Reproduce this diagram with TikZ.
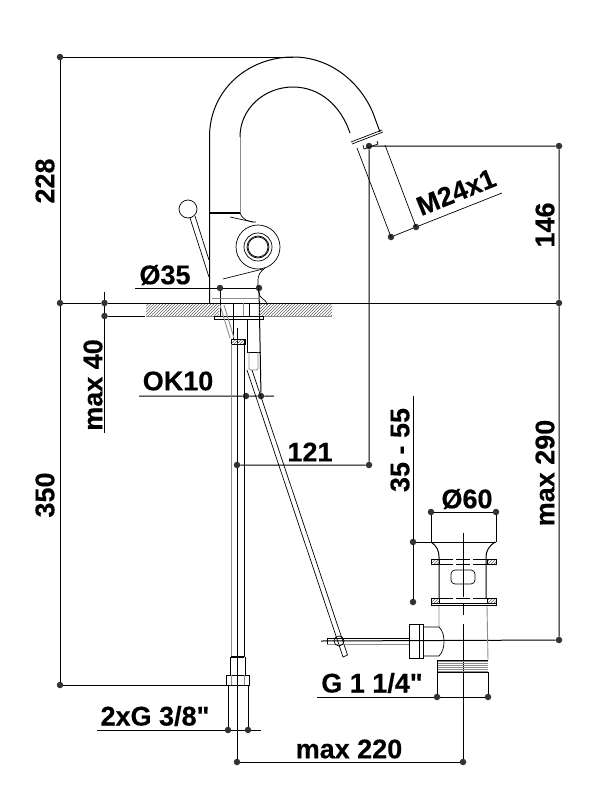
\documentclass[tikz,border=0pt]{standalone}
\usepackage{fontspec}
\setmainfont{Liberation Sans}
\newfontface\dimfont[FakeBold=0.3]{Liberation Sans Bold}
\usetikzlibrary{patterns}
\tikzset{
	dimdot/.style={circle,fill=black!80,inner sep=0pt,minimum size=6.5pt},
	dimline/.style={line width=1pt},
	dimtext/.style={font=\fontsize{27}{27}\dimfont,inner sep=0pt},
	body/.style={line width=1pt},
	thinbody/.style={line width=0.7pt},
	greybody/.style={line width=0.9pt,black!45},
	hatched/.style={pattern=north east lines,pattern color=black!60,draw=none}
}
\begin{document}
\begin{tikzpicture}[x=1pt,y=-1pt]
	\useasboundingbox (0,0) rectangle (609,803);
	% dimension dots
	\foreach \name/\x/\y in {tl/60/57,ml/60/303,bl/60/685,ca/104.5/303,cb/104.5/316,
		da/220/288,db/259/288,oa/246/396,ob/261/396,ra/237/465,rb/369/465,
		na/391/237,nb/416/227,sa/369/146,sb/559/146,sc/559/303,sd/559/640,
		ua/431/512,ub/496/512,wa/413/542,wb/413/602,ga/437/697,gb/488/697,
		pa/228/730,pb/248/730,ma/237/762,mb/463/762}
		{\node[dimdot] (\name) at (\x,\y) {};}
	% free ends
	\foreach \name/\x/\y in {topend/293/57,botend/227/685,capup/104.5/292,capdown/104.5/433,
		plateend/145/316,dend/135/288,oend/139/396,oendb/274/396,
		nend/502/193,wup/413/396,gend/317/697,pend/97/730,pendb/261/730,
		dla/220/316,dlb/261/319,rup/237/328,sdl/321/641,
		uda/431/542,udb/496/542,gua/437/660,gub/488/672,
		paup/228/685,pbup/248/685,maup/237/685,mbup/463/533}
		{\coordinate (\name) at (\x,\y);}
	% dimensions
	\draw[dimline] (tl)--(topend) (tl)--(ml)--(bl)--(botend);
	\draw[dimline] (ml)--(ca)--(sc) (cb)--(plateend);
	\draw[dimline] (capup)--(ca)--(cb)--(capdown);
	\draw[dimline] (dend)--(da)--(db) (da)--(dla);
	\draw[dimline] (oend)--(oa)--(ob)--(oendb) (db)--(ob);
	\draw[dimline] (ra)--(rb)--(sa)--(sb)--(sc)--(sd)--(sdl);
	\draw[dimline] (rup)--(ra)--(maup);
	\draw[thinbody] (na)--(nb)--(nend);
	\draw[dimline] (ua)--(ub) (ua)--(uda) (ub)--(udb);
	\draw[dimline] (wup)--(wa)--(wb) (wa)--(udb);
	\draw[dimline] (gend)--(ga)--(gb) (gua)--(ga) (gub)--(gb);
	\draw[dimline] (pend)--(pa)--(pb)--(pendb) (paup)--(pa) (pbup)--(pb);
	\draw[dimline] (maup)--(ma)--(mb);
	\draw[dimline] (mbup)--(463,597) (463,604)--(463,615) (463,624)--(mb);
	% labels
	\node[dimtext,rotate=90] (lbla) at (45,181) {228};
	\node[dimtext,rotate=90] (lblb) at (45,495) {350};
	\node[dimtext,rotate=90] (lblc) at (93,385) {max 40};
	\node[dimtext,rotate=90] (lbld) at (545,225) {146};
	\node[dimtext,rotate=90] (lble) at (545,473) {max 290};
	\node[dimtext,rotate=90] (lblf) at (400,450) {35 - 55};
	\node[dimtext,rotate=22] (lblg) at (456,192) {M24x1};
	\node[dimtext] (lblh) at (165,275) {Ø35};
	\node[dimtext] (lbli) at (178,381) {OK10};
	\node[dimtext] (lblj) at (310,452) {121};
	\node[dimtext] (lblk) at (467,499) {Ø60};
	\node[dimtext] (lbll) at (372,683) {G 1 1/4"};
	\node[dimtext] (lblm) at (155,716) {2xG 3/8"};
	\node[dimtext] (lbln) at (349,749) {max 220};
	% spout
	\draw[body] (209.5,303)--(209.5,137) .. controls (209.5,90) and (248,57) .. (293,57)
		.. controls (332,57) and (361,84) .. (373,113)--(380,132);
	\draw[greybody] (240,213)--(240,137);
	\draw[body] (240,137) .. controls (240,108) and (265,87) .. (293,87)
		.. controls (320,87) and (341,106) .. (350,133);
	\draw[thinbody] (351,142)--(382,130) (352,144)--(383,132);
	\draw[thinbody] (357,148)--(391,237) (385,145)--(416,227);
	\draw[thinbody] (363,145)--(364,149)--(378,144)--(377,141);
	% lever and body
	\draw[line width=1.2pt] (209.5,213)--(240,213);
	\draw[thinbody] (188,209) circle [radius=9];
	\draw[thinbody] (190,218)--(209,277) (195,216)--(209,260);
	\draw[thinbody] (240,213) .. controls (243,220) and (248,222) .. (256,222);
	\draw[thinbody] (230,217)--(253,222);
	\foreach \r in {22,14,11,10}
		{\draw[thinbody] (258,247) circle [radius=\r];}
	\draw[thinbody] (223,279)--(263,269);
	\draw[thinbody] (265,268) .. controls (260,272) and (258,275) .. (258,280)
		.. controls (258,290) and (258,296) .. (263,299) .. controls (266,301) and (267,303) .. (267,305);
	\draw[greybody] (212,298)--(260,298);
	% counter and fixing
	\fill[hatched] (146,304) rectangle (219,316) (259,304) rectangle (332,316);
	\draw[greybody] (146,316.5)--(219,316.5) (259,316.5)--(332,316.5);
	\draw[thinbody] (214,316) rectangle (263,319);
	\draw[thinbody] (233,303)--(233,339) (249,303)--(249,316);
	\draw[greybody] (243,303)--(243,316);
	\draw[thinbody] (247,319)--(247,352)--(261,352);
	\draw[greybody,rounded corners=1.5pt] (249,352)--(249,370)--(258,370)--(258,352);
	\draw[greybody] (220,305)--(230,338) (224,305)--(234,338);
	% rod and connector
	\fill[hatched] (231,339) rectangle (245,344);
	\draw[thinbody] (231,339) rectangle (245,344);
	\draw[greybody] (231,344)--(231,657);
	\draw[body] (244,339)--(244,657);
	\draw[line width=1.5pt] (231,657)--(244,657);
	\draw[thinbody] (230.5,657)--(230.5,675) (245,657)--(245,675);
	\draw[thinbody] (226,675) rectangle (249,685);
	\draw[greybody] (231,675)--(231,685) (244,675)--(244,685);
	% lift rod
	\draw[thinbody] (247,370)--(343,657)--(347.5,655) (252,370)--(347.5,655);
	% waste
	\draw[body] (431,542) .. controls (437,546) and (439,551) .. (439,557)--(439,598);
	\draw[body] (495,542) .. controls (489,546) and (486,551) .. (486,557)--(486,598);
	\foreach \y in {559,598}
		{\fill[hatched] (431,\y) rectangle (439,\y+5) (487,\y) rectangle (496,\y+5);
		\draw[thinbody] (431,\y) rectangle (439,\y+5) (487,\y) rectangle (496,\y+5);
		\draw[thinbody,dash pattern=on 14pt off 3pt] (439,\y)--(487,\y) (439,\y+5)--(487,\y+5);}
	\draw[thinbody] (431,603) rectangle (496,605.5);
	\draw[thinbody,rounded corners=4pt] (451,570) rectangle (475,584);
	\draw[greybody] (439,606)--(439,627) (487,606)--(488,660);
	\draw[thinbody] (423,627)--(439,627) .. controls (443,631) and (444,636) .. (444,642)
		.. controls (444,648) and (442,653) .. (439,656)--(423,656);
	\draw[thinbody] (409,624) rectangle (423,658) (419.5,624)--(419.5,658);
	\foreach \y in {661,663,665,667,669,671}
		{\draw[greybody] (438,\y)--(488,\y);}
	\draw[thinbody] (438,660)--(488,660) (438,672)--(488,672);
	\draw[thinbody] (327,638)--(409,638);
	\draw[greybody] (327,644)--(409,644);
	\draw[thinbody] (327,638)--(327,644);
	\draw[thinbody] (339,641) circle [radius=5];
\end{tikzpicture}
\end{document}
